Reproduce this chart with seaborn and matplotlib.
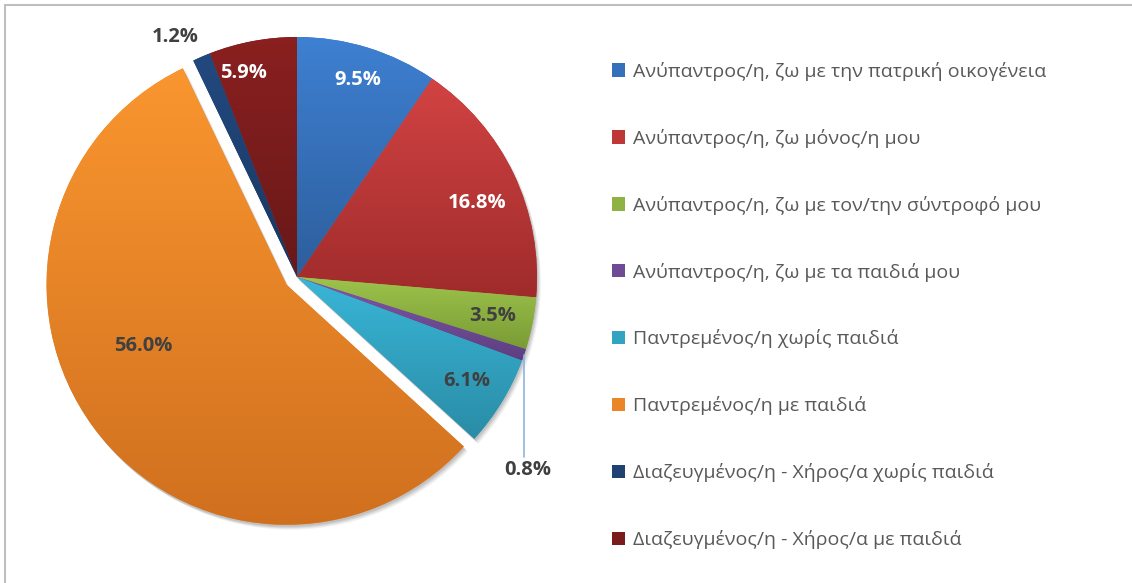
import numpy as np
import matplotlib
matplotlib.use("Agg")
import matplotlib.pyplot as plt
import matplotlib.colors as mcolors
from matplotlib.patches import Patch
import seaborn as sns

categories = [
    "Ανύπαντρος/η, ζω με την πατρική οικογένεια",
    "Ανύπαντρος/η, ζω μόνος/η μου",
    "Ανύπαντρος/η, ζω με τον/την σύντροφό μου",
    "Ανύπαντρος/η, ζω με τα παιδιά μου",
    "Παντρεμένος/η χωρίς παιδιά",
    "Παντρεμένος/η με παιδιά",
    "Διαζευγμένος/η - Χήρος/α χωρίς παιδιά",
    "Διαζευγμένος/η - Χήρος/α με παιδιά",
]
values = [9.5, 16.8, 3.5, 0.8, 6.1, 56.0, 1.2, 5.9]
labels = ["9.5%", "16.8%", "3.5%", "0.8%", "6.1%", "56.0%", "1.2%", "5.9%"]

top_colors = ["#3E80D2", "#D24343", "#9DC44C", "#7F58A8", "#39B6D8", "#FA962F", "#22497F", "#8A2020"]
bot_colors = ["#2D5E9C", "#A02B2B", "#7A9B35", "#5D3F80", "#2A8CA6", "#D0701F", "#193862", "#681818"]
base_colors = ["#3570BA", "#BE3838", "#8FB342", "#6F4B96", "#33A3C2", "#EA8528", "#1F4272", "#7B1C1C"]
label_colors = ["white", "white", "#404040", "#404040", "#404040", "#404040", "#404040", "white"]
label_dist = [0.86, 0.81, 0.83, 1.0, 0.83, 0.65, 1.12, 0.88]
label_shift = [0, 3, 0, 0, 0, 13.5, -3.5, -4]   # degrees, clockwise
explode = [0, 0, 0, 0, 0, 13, 0, 0]             # offset in pixels

sns.set_theme(style="white")
plt.rcParams["font.family"] = ["Open Sans", "DejaVu Sans"]

W, H = 1132, 583
fig = plt.figure(figsize=(W / 100, H / 100), dpi=100)
ax = fig.add_axes([0, 0, 1, 1])
ax.set_xlim(0, W)
ax.set_ylim(0, H)
ax.axis("off")

cx, cy, R = 297, H - 277, 240

# soft shadow
for dx, dy, a in [(4, -5, 0.05), (3, -4, 0.06), (2, -3, 0.08), (1, -2, 0.08)]:
    ax.pie(values, center=(cx + dx, cy + dy), radius=R, startangle=90,
           counterclock=False, explode=explode, colors=["#000000"] * len(values),
           wedgeprops=dict(alpha=a, linewidth=0), frame=True)

wedges, _ = ax.pie(values, center=(cx, cy), radius=R, startangle=90, counterclock=False,
                   explode=explode, colors=base_colors, wedgeprops=dict(linewidth=0),
                   frame=True)

# vertical gradients clipped to each wedge
for w, ct, cb in zip(wedges, top_colors, bot_colors):
    path = w.get_patch_transform().transform_path(w.get_path())
    x0, y0 = path.vertices.min(axis=0)
    x1, y1 = path.vertices.max(axis=0)
    cmap = mcolors.LinearSegmentedColormap.from_list("g", [cb, ct])
    grad = np.linspace(0, 1, 256).reshape(-1, 1)
    im = ax.imshow(grad, cmap=cmap, origin="lower", extent=[x0, x1, y0, y1],
                   aspect="auto", zorder=w.get_zorder() + 0.1, interpolation="bilinear")
    im.set_clip_path(w)

ax.set_xlim(0, W)
ax.set_ylim(0, H)
ax.set_aspect("auto")
ax.axis("off")

# data labels
for i, w in enumerate(wedges):
    mid = np.deg2rad((w.theta1 + w.theta2) / 2 - label_shift[i])
    wx, wy = w.center
    d = label_dist[i] * R
    tx, ty = wx + d * np.cos(mid), wy + d * np.sin(mid)
    if i == 3:
        ex, ey = wx + R * np.cos(mid), wy + R * np.sin(mid)
        ax.plot([ex, ex], [ey, ey - 102], color="#8EB4E3", lw=1.2, zorder=5)
        tx, ty = ex + 4, ey - 115
    ax.text(tx, ty, labels[i], ha="center", va="center", fontsize=14.5,
            fontweight="bold", color=label_colors[i], zorder=6)

# legend
handles = [Patch(facecolor=c, edgecolor="none") for c in base_colors]
leg = ax.legend(handles, categories, loc="upper left", bbox_to_anchor=(604 / W, 1 - 54 / H),
                bbox_transform=fig.transFigure, frameon=False, fontsize=14,
                labelcolor="#595959", handlelength=0.68, handleheight=0.68,
                handletextpad=0.4, labelspacing=2.465, borderaxespad=0)

# chart-area frame (top and left visible)
ax.plot([5, W], [H - 5, H - 5], color="#BFBFBF", lw=1.5, zorder=10, clip_on=False)
ax.plot([5, 5], [H - 5, 0], color="#BFBFBF", lw=1.5, zorder=10, clip_on=False)

fig.savefig("out.png", dpi=100, facecolor="white")
